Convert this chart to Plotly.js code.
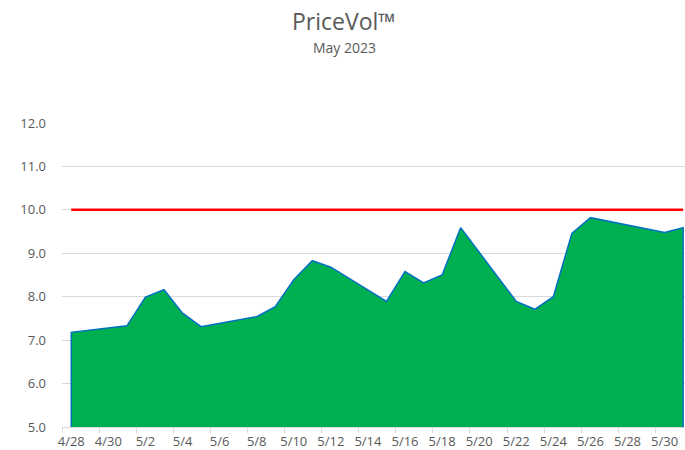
<!DOCTYPE html>
<html>
<head>
<meta charset="utf-8">
<script src="https://cdn.plot.ly/plotly-3.0.1.min.js"></script>
<style>html,body{margin:0;padding:0;background:#fff;overflow:hidden}</style>
</head>
<body>
<div id="chart" style="width:685px;height:450px"></div>
<script>
const DATES = ['2023-04-28','2023-05-01','2023-05-02','2023-05-03','2023-05-04','2023-05-05',
  '2023-05-08','2023-05-09','2023-05-10','2023-05-11','2023-05-12',
  '2023-05-15','2023-05-16','2023-05-17','2023-05-18','2023-05-19',
  '2023-05-22','2023-05-23','2023-05-24','2023-05-25','2023-05-26',
  '2023-05-30','2023-05-31'];
const PRICEVOL = [7.18,7.33,7.99,8.16,7.62,7.31,
  7.54,7.77,8.39,8.83,8.68,
  7.89,8.58,8.32,8.50,9.59,
  7.89,7.71,8.00,9.46,9.82,
  9.48,9.59];
const THRESHOLD = 10.0;
const TICK_DATES = ['2023-04-28','2023-04-30','2023-05-02','2023-05-04','2023-05-06','2023-05-08',
  '2023-05-10','2023-05-12','2023-05-14','2023-05-16','2023-05-18','2023-05-20',
  '2023-05-22','2023-05-24','2023-05-26','2023-05-28','2023-05-30'];
const TICK_LABELS = ['4/28','4/30','5/2','5/4','5/6','5/8','5/10','5/12','5/14','5/16','5/18','5/20',
  '5/22','5/24','5/26','5/28','5/30'];
const Y_RANGE = [5, 12];

const first = DATES[0], last = DATES[DATES.length-1];
const areaX = [first].concat(DATES, [last]);
const areaY = [Y_RANGE[0]].concat(PRICEVOL, [Y_RANGE[0]]);

const FONT = '"Open Sans", sans-serif';
const GREY = '#595959';

const traces = [
  {
    x: areaX, y: areaY, type: 'scatter', mode: 'lines',
    fill: 'tozeroy', fillcolor: '#00b050',
    line: {color: '#0070c0', width: 1.5},
    hoverinfo: 'skip'
  },
  {
    x: [first, last], y: [THRESHOLD, THRESHOLD], type: 'scatter', mode: 'lines',
    line: {color: '#ff0000', width: 2.5},
    hoverinfo: 'skip'
  }
];

const layout = {
  width: 685, height: 450,
  margin: {l: 62, r: 0, t: 123, b: 23, pad: 0},
  paper_bgcolor: '#ffffff', plot_bgcolor: '#ffffff',
  showlegend: false,
  font: {family: FONT, color: GREY, size: 13},
  xaxis: {
    type: 'date',
    range: ['2023-04-27 12:00', '2023-05-31 02:24'],
    tickmode: 'array', tickvals: TICK_DATES, ticktext: TICK_LABELS,
    ticks: '', showgrid: false, zeroline: false,
    showline: true, linecolor: '#d9d9d9', linewidth: 1,
    ticklabelstandoff: 2,
    tickfont: {family: FONT, size: 13, color: GREY},
    minor: {tickmode: 'linear', tick0: '2023-04-27 12:00', dtick: 2*86400000,
            ticks: 'outside', ticklen: 5, tickcolor: '#d9d9d9', tickwidth: 1, showgrid: false},
    fixedrange: true
  },
  yaxis: {
    range: Y_RANGE, dtick: 1, tick0: 5, tickformat: '.1f',
    showgrid: true, gridcolor: '#d9d9d9', gridwidth: 1,
    zeroline: false, showline: false, ticks: '',
    ticklabelstandoff: 15,
    tickfont: {family: FONT, size: 13, color: GREY},
    fixedrange: true
  },
  annotations: [
    {text: 'PriceVol™', xref: 'paper', yref: 'paper', x: 0.4527, y: 1, yshift: 102,
     showarrow: false, font: {family: FONT, size: 23, color: GREY}, xanchor: 'center', yanchor: 'middle'},
    {text: 'May 2023', xref: 'paper', yref: 'paper', x: 0.4527, y: 1, yshift: 76,
     showarrow: false, font: {family: FONT, size: 14, color: GREY}, xanchor: 'center', yanchor: 'middle'}
  ],
  hovermode: false
};

Plotly.newPlot('chart', traces, layout, {displayModeBar: false, staticPlot: true});
</script>
</body>
</html>
